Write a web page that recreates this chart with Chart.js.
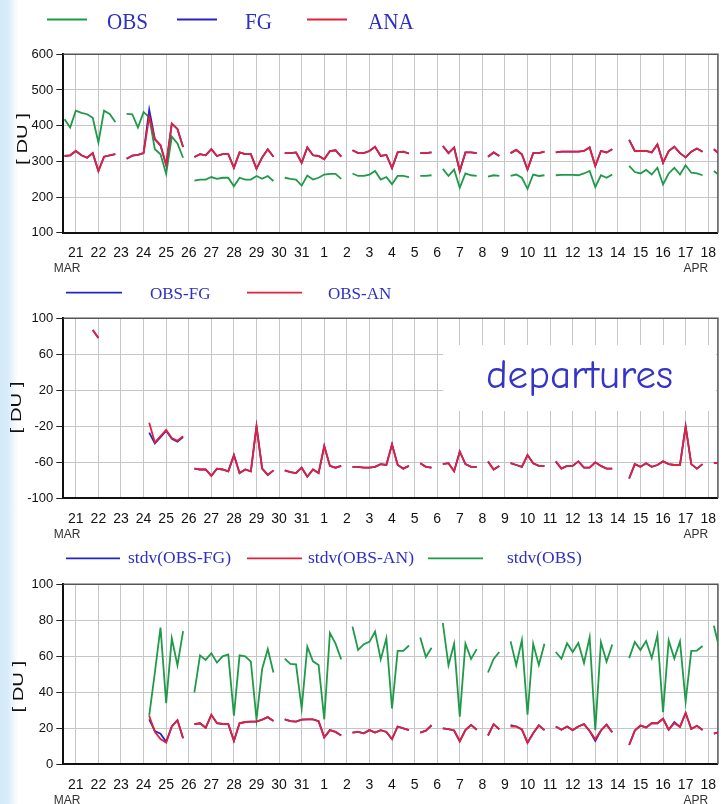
<!DOCTYPE html>
<html>
<head>
<meta charset="utf-8">
<title>Total ozone monitoring</title>
<script src="https://cdn.jsdelivr.net/npm/chart.js@4.4.1/dist/chart.umd.min.js"></script>
<style>
  html, body { margin: 0; padding: 0; background: #fff; }
  body { position: relative; width: 728px; height: 804px; overflow: hidden; }
  #edge { position: absolute; left: 0; top: 0; width: 18px; height: 804px;
          background: linear-gradient(to right, #d3e9f9 0, #d9ecfa 8px, #fff 18px); }
  canvas { position: absolute; left: 0; }
</style>
</head>
<body>
<div id="edge"></div>
<canvas id="totalChart" width="728" height="280" style="top:0"></canvas>
<canvas id="departureChart" width="728" height="265" style="top:280px"></canvas>
<canvas id="stdvChart" width="728" height="259" style="top:545px"></canvas>
<script>
// x is in days from 21 Mar 00 UTC, one value per 6-hourly cycle
const STEP = 0.25;
const dayLabels = ['21', '22', '23', '24', '25', '26', '27', '28', '29', '30', '31',
  '1', '2', '3', '4', '5', '6', '7', '8', '9', '10', '11', '12', '13', '14', '15', '16', '17', '18'];
const monthLabels = ['MAR', 'APR'];

// runs: [first day, values every 6 h]; a new run starts after a data gap
const obsTotal = [
  [-0.5, [418, 395, 442, 436, 432, 422, 353, 442, 433, 410]],
  [2.25, [433, 432, 395, 438, 424, 334, 320, 265, 369, 350, 310]],
  [5.25, [246, 249, 249, 256, 251, 254, 254, 230, 254, 249, 249, 259, 251, 259, 245]],
  [9.25, [254, 251, 249, 232, 260, 249, 254, 263, 265, 265, 251]],
  [12.25, [266, 259, 259, 263, 273, 249, 256, 236, 259, 259, 256]],
  [15.25, [259, 259, 261]],
  [16.25, [279, 259, 277, 226, 266, 261, 259]],
  [18.25, [257, 261, 259]],
  [19.25, [259, 263, 254, 223, 263, 259, 261]],
  [21.25, [261, 262, 262, 262, 261, 266, 273, 228, 261, 254, 263]],
  [24.5, [287, 270, 266, 276, 263, 282, 235, 266, 282, 263, 289, 268, 266, 261]],
  [28.25, [273, 261]]
];
const fgTotal = [
  [-0.5, [315, 317, 329, 317, 310, 323, 273, 313, 317, 320]],
  [2.25, [307, 316, 318, 323, 445, 362, 345, 290, 406, 391, 340]],
  [5.25, [312, 320, 317, 334, 315, 320, 320, 282, 325, 320, 320, 279, 311, 334, 313]],
  [9.25, [323, 323, 325, 296, 339, 317, 315, 306, 329, 331, 313]],
  [12.25, [331, 323, 323, 329, 341, 315, 318, 281, 325, 327, 322]],
  [15.25, [323, 323, 325]],
  [16.25, [343, 323, 339, 273, 325, 325, 323]],
  [18.25, [313, 325, 315]],
  [19.25, [323, 332, 320, 277, 323, 323, 327]],
  [21.25, [325, 327, 327, 327, 327, 329, 339, 287, 329, 325, 334]],
  [24.5, [360, 329, 329, 329, 325, 348, 296, 329, 341, 323, 311, 327, 336, 327]],
  [28.25, [334, 320]]
];
const anaTotal = [
  [-0.5, [315, 317, 329, 317, 310, 323, 273, 313, 317, 320]],
  [2.25, [307, 316, 318, 323, 425, 362, 345, 290, 406, 391, 340]],
  [5.25, [312, 320, 317, 334, 315, 320, 320, 282, 325, 320, 320, 279, 311, 334, 313]],
  [9.25, [323, 323, 325, 296, 339, 317, 315, 306, 329, 331, 313]],
  [12.25, [331, 323, 323, 329, 341, 315, 318, 281, 325, 327, 322]],
  [15.25, [323, 323, 325]],
  [16.25, [343, 323, 339, 273, 325, 325, 323]],
  [18.25, [313, 325, 315]],
  [19.25, [323, 332, 320, 277, 323, 323, 327]],
  [21.25, [325, 327, 327, 327, 327, 329, 339, 287, 329, 325, 334]],
  [24.5, [360, 329, 329, 329, 325, 348, 296, 329, 341, 323, 311, 327, 336, 327]],
  [28.25, [334, 320]]
];

const obsMinusFg = [
  [0.75, [87, 78]],
  [3.25, [-27, -39, -32, -25, -34, -37, -32]],
  [5.25, [-67, -68, -68, -75, -67, -68, -70, -52, -72, -68, -70, -20, -67, -74, -69]],
  [9.25, [-69, -71, -72, -66, -76, -68, -72, -42, -64, -66, -64]],
  [12.25, [-65, -65, -66, -66, -65, -62, -63, -40, -63, -67, -64]],
  [15.25, [-61, -65, -66]],
  [16.25, [-62, -61, -70, -48, -62, -65, -65]],
  [18.25, [-59, -68, -64]],
  [19.25, [-61, -63, -65, -52, -61, -64, -64]],
  [21.25, [-59, -67, -64, -64, -59, -66, -66, -60, -64, -67, -67]],
  [24.5, [-78, -62, -65, -61, -65, -63, -59, -62, -63, -63, -20, -62, -67, -62]],
  [28.25, [-61, -61]]
];
const obsMinusAn = [
  [0.75, [87, 78]],
  [3.25, [-16, -38, -31, -24, -33, -36, -31]],
  [5.25, [-67, -68, -68, -75, -67, -68, -70, -52, -72, -68, -70, -20, -67, -74, -69]],
  [9.25, [-69, -71, -72, -66, -76, -68, -72, -42, -64, -66, -64]],
  [12.25, [-65, -65, -66, -66, -65, -62, -63, -40, -63, -67, -64]],
  [15.25, [-61, -65, -66]],
  [16.25, [-62, -61, -70, -48, -62, -65, -65]],
  [18.25, [-59, -68, -64]],
  [19.25, [-61, -63, -65, -52, -61, -64, -64]],
  [21.25, [-59, -67, -64, -64, -59, -66, -66, -60, -64, -67, -67]],
  [24.5, [-78, -62, -65, -61, -65, -63, -59, -62, -63, -63, -20, -62, -67, -62]],
  [28.25, [-61, -61]]
];

const stdvObsFg = [
  [3.25, [25, 18.5, 17, 12.5, 21, 24.5, 14.5]],
  [5.25, [22.3, 22.8, 20.3, 27.5, 22.8, 22.4, 22.4, 13, 22.8, 23.5, 23.7, 23.7, 24.8, 26.2, 24]],
  [9.25, [25, 24, 23.7, 24.8, 25, 25, 24, 15, 19, 18, 16]],
  [12.25, [17.6, 18, 17.2, 19, 17.6, 19, 18, 14, 21, 20, 19]],
  [15.25, [17.6, 18.7, 21.7]],
  [16.25, [20, 19.6, 18.8, 12.8, 19, 21.9, 19.2]],
  [18.25, [16, 22.3, 19.4]],
  [19.25, [21.8, 21, 19.4, 12, 17.2, 21.6, 19]],
  [21.25, [21, 19.2, 21, 19, 21, 22.3, 18.5, 13, 18.8, 22, 17.8]],
  [24.5, [10.7, 18.7, 21.5, 20.5, 22.8, 22.8, 25.3, 19.2, 23.5, 20.8, 28.5, 19.6, 21.4, 19.1]],
  [28.25, [17, 18]]
];
const stdvObsAn = [
  [3.25, [27, 18, 14, 12, 21, 24.5, 14.5]],
  [5.25, [22.3, 22.8, 20.3, 27.5, 22.8, 22.4, 22.4, 13, 22.8, 23.5, 23.7, 23.7, 24.8, 26.2, 24]],
  [9.25, [25, 24, 23.7, 24.8, 25, 25, 24, 15, 19, 18, 16]],
  [12.25, [17.6, 18, 17.2, 19, 17.6, 19, 18, 14, 21, 20, 19]],
  [15.25, [17.6, 18.7, 21.7]],
  [16.25, [20, 19.6, 18.8, 12.8, 19, 21.9, 19.2]],
  [18.25, [16, 22.3, 19.4]],
  [19.25, [21, 21, 19.4, 12, 17.2, 21.6, 19]],
  [21.25, [21, 19.2, 21, 19, 21, 22.3, 18.5, 14, 18.8, 22, 17.8]],
  [24.5, [10.7, 18.7, 21.5, 20.5, 22.8, 22.8, 25.3, 19.2, 22.8, 20.8, 28.5, 19.6, 21.4, 19.1]],
  [28.25, [17, 18]]
];
const stdvObs = [
  [3.25, [27, 51, 76, 34, 70, 55, 74]],
  [5.25, [40, 60.5, 58, 61.7, 56.5, 60, 61, 27, 60.5, 60, 57, 25, 53, 64, 51]],
  [9.25, [58.7, 55.8, 55.5, 31, 65.4, 57.2, 55.2, 25, 73, 67, 58.3]],
  [12.25, [76.5, 63.5, 66.7, 68, 73.7, 58.3, 70, 31, 63, 63, 66]],
  [15.25, [70.5, 59.6, 64.7]],
  [16.25, [78.5, 55, 67, 26.5, 67, 58.5, 64]],
  [18.25, [51, 58.5, 62.4]],
  [19.25, [68.3, 55, 69, 27.5, 67, 55.2, 67]],
  [21.25, [62.4, 58.6, 67.2, 62.4, 67.4, 56.3, 70.6, 19, 67.8, 57, 66.6]],
  [24.5, [59, 68, 63.5, 68.5, 59, 71.7, 29, 68.8, 58.7, 68.3, 34.8, 63, 63.2, 65.7]],
  [28.25, [77, 64]]
];

const GREEN = '#1f9a48';
const BLUE = '#2424c8';
const RED = '#e3203a';
const TEXT_BLUE = '#2f2fc4';
const GRID = '#c6c6c6';
const SANS = '"Liberation Sans", Arial, Helvetica, sans-serif';
const SERIF = '"Liberation Serif", "Times New Roman", serif';

// flatten runs into {x,y} points with a null after each run so the line breaks
function toPoints(runs) {
  const pts = [];
  runs.forEach(([start, values]) => {
    values.forEach((v, i) => pts.push({ x: start + i * STEP, y: v }));
    pts.push({ x: start + values.length * STEP, y: null });
  });
  return pts;
}

function series(label, runs, color) {
  return {
    label, data: toPoints(runs), borderColor: color, backgroundColor: color,
    borderWidth: 1.8, pointRadius: 0, tension: 0, spanGaps: false, fill: false
  };
}

function decorPlugin(spec) {
  return {
    id: 'decor',
    beforeDatasetsDraw(chart) {
      const { ctx, chartArea: a } = chart;
      ctx.save();
      ctx.strokeStyle = '#555';
      ctx.lineWidth = 1.5;
      ctx.beginPath();
      ctx.moveTo(a.left, a.top);
      ctx.lineTo(a.right, a.top);
      ctx.lineTo(a.right, a.bottom);
      ctx.stroke();
      ctx.restore();
    },
    afterDraw(chart) {
      const { ctx, chartArea: a, scales: { x } } = chart;
      const ds = chart.data.datasets;
      ctx.save();

      if (spec.box) {
        const b = spec.box;
        ctx.fillStyle = '#fff';
        ctx.fillRect(b.left, b.top, b.width, b.height);
        ctx.font = `41px "Comic Sans MS", "Comic Neue", "DejaVu Sans", sans-serif`;
        ctx.fillStyle = '#3434c8';
        ctx.textAlign = 'center';
        ctx.textBaseline = 'alphabetic';
        ctx.fillText(b.text, b.left + b.width / 2, b.baseline);
      }

      // legend row above the panel
      const lg = spec.legend;
      lg.items.forEach((it) => {
        ctx.strokeStyle = ds[it.ds].borderColor;
        ctx.lineWidth = 1.8;
        ctx.beginPath();
        ctx.moveTo(it.x1, lg.lineY);
        ctx.lineTo(it.x2, lg.lineY);
        ctx.stroke();
        ctx.save();
        ctx.translate(it.tx, lg.baseline);
        ctx.scale(lg.sx, 1);
        ctx.font = lg.font;
        ctx.fillStyle = TEXT_BLUE;
        ctx.textAlign = 'left';
        ctx.textBaseline = 'alphabetic';
        ctx.fillText(ds[it.ds].label, 0, 0);
        ctx.restore();
      });

      // unit title
      ctx.save();
      ctx.translate(spec.unit.x, spec.unit.y);
      ctx.rotate(-Math.PI / 2);
      ctx.scale(1.35, 1);
      ctx.font = `15px ${SANS}`;
      ctx.fillStyle = '#111';
      ctx.textAlign = 'center';
      ctx.textBaseline = 'middle';
      ctx.fillText('[ DU ]', 0, 0);
      ctx.restore();

      // month names under the first and last day
      ctx.font = `12px ${SANS}`;
      ctx.fillStyle = '#333';
      ctx.textBaseline = 'middle';
      ctx.textAlign = 'left';
      ctx.fillText(monthLabels[0], x.getPixelForValue(0) - 22, a.bottom + 36);
      ctx.textAlign = 'right';
      ctx.fillText(monthLabels[1], x.getPixelForValue(dayLabels.length - 1), a.bottom + 36);
      ctx.restore();
    }
  };
}

function makePanel(id, cfg) {
  return new Chart(document.getElementById(id), {
    type: 'line',
    data: { datasets: cfg.datasets },
    options: {
      responsive: false,
      animation: false,
      events: [],
      layout: { autoPadding: false, padding: { top: cfg.plotTop, left: 0, right: 0, bottom: 0 } },
      plugins: { legend: { display: false }, tooltip: { enabled: false } },
      scales: {
        x: {
          type: 'linear',
          min: -0.554,
          max: 28.43,
          afterFit: (s) => { s.height = cfg.axisHeight; },
          border: { color: '#111', width: 2 },
          grid: { color: GRID, lineWidth: 1, drawTicks: false },
          ticks: {
            stepSize: 1, includeBounds: false, autoSkip: false, maxRotation: 0, padding: 12,
            color: '#111', font: { size: 14, family: SANS },
            callback: (v) => dayLabels[v] ?? ''
          }
        },
        y: {
          min: cfg.yMin,
          max: cfg.yMax,
          afterFit: (s) => { s.width = 63.3; },
          border: { color: '#111', width: 2 },
          grid: {
            color: (c) => (cfg.zeroLine && c.tick && c.tick.value === 0 ? '#222' : GRID),
            lineWidth: (c) => (cfg.zeroLine && c.tick && c.tick.value === 0 ? 2 : 1),
            tickColor: '#222', tickLength: 7
          },
          ticks: {
            stepSize: cfg.yStep, padding: 3, color: '#111', font: { size: 13, family: SANS },
            callback: cfg.yLabel
          }
        }
      }
    },
    plugins: [decorPlugin(cfg.decor)]
  });
}

makePanel('totalChart', {
  plotTop: 54.3, axisHeight: 47.3, yMin: 100, yMax: 600, yStep: 50,
  yLabel: (v) => (v % 100 === 0 ? v : ''),
  datasets: [series('ANA', anaTotal, RED), series('FG', fgTotal, BLUE), series('OBS', obsTotal, GREEN)],
  decor: {
    legend: {
      lineY: 19.5, baseline: 29.3, sx: 0.88, font: `24px ${SERIF}`,
      items: [{ ds: 2, x1: 47, x2: 87, tx: 107 }, { ds: 1, x1: 177, x2: 217, tx: 245 }, { ds: 0, x1: 307, x2: 347, tx: 368 }]
    },
    unit: { x: 22.5, y: 139 }
  }
});

makePanel('departureChart', {
  plotTop: 38.3, axisHeight: 46.7, yMin: -100, yMax: 100, yStep: 20, zeroLine: true,
  yLabel: (v) => ((v + 100) % 40 === 0 ? v : ''),
  datasets: [series('OBS-AN', obsMinusAn, RED), series('OBS-FG', obsMinusFg, BLUE)],
  decor: {
    legend: {
      lineY: 12.7, baseline: 19.3, sx: 1, font: `17px ${SERIF}`,
      items: [{ ds: 1, x1: 66, x2: 122, tx: 150 }, { ds: 0, x1: 247, x2: 302, tx: 328 }]
    },
    unit: { x: 16.5, y: 127.5 },
    box: { left: 443, top: 65, width: 273, height: 66, baseline: 107.5, text: 'departures' }
  }
});

makePanel('stdvChart', {
  plotTop: 39.3, axisHeight: 39.7, yMin: 0, yMax: 100, yStep: 10,
  yLabel: (v) => (v % 20 === 0 ? v : ''),
  datasets: [series('stdv(OBS-AN)', stdvObsAn, RED), series('stdv(OBS-FG)', stdvObsFg, BLUE), series('stdv(OBS)', stdvObs, GREEN)],
  decor: {
    legend: {
      lineY: 13.3, baseline: 17.8, sx: 1, font: `17.5px ${SERIF}`,
      items: [{ ds: 1, x1: 66, x2: 120, tx: 128 }, { ds: 0, x1: 247, x2: 302, tx: 308 }, { ds: 2, x1: 428, x2: 483, tx: 507 }]
    },
    unit: { x: 18.5, y: 141.7 }
  }
});
</script>
</body>
</html>
